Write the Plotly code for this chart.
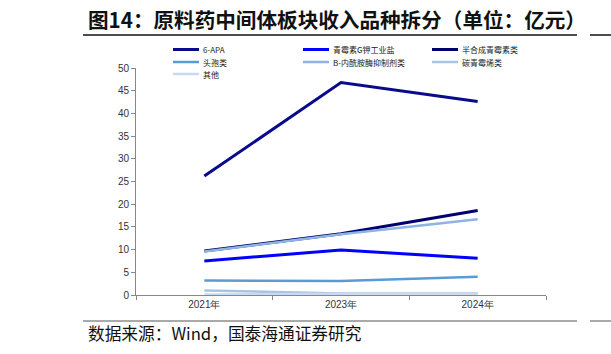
import plotly.graph_objects as go

years = ["2021年", "2023年", "2024年"]
series_names = ["6-APA", "青霉素G钾工业盐", "半合成青霉素类", "头孢类", "B-内酰胺酶抑制剂类", "碳青霉烯类", "其他"]
apa = [26.2, 46.8, 42.6]
pen_g = [7.5, 9.9, 8.1]
semi = [9.7, 13.5, 18.6]
ceph = [3.2, 3.1, 4.0]
blac = [9.6, 13.4, 16.7]
carb = [1.0, 0.35, 0.35]
other = [0.1, 0.3, 0.3]
values = [apa, pen_g, semi, ceph, blac, carb, other]
colors = ["#0a0a8c", "#0000ff", "#000070", "#5b9bd5", "#8db4e2", "#a6c4e6", "#c9daf0"]
widths = [3, 3, 3, 2.5, 2.5, 2.5, 2.5]

L, R, T, B = 136, 546, 68, 295
PW, PH = R - L, B - T


def px(x):
    return (x - L) / PW


def py(y):
    return (B - y) / PH


fig = go.Figure()
for name, v, c, w in zip(series_names, values, colors, widths):
    fig.add_trace(go.Scatter(x=years, y=v, name=name, mode="lines",
                             line=dict(color=c, width=w), showlegend=False))

fig.update_layout(
    width=611, height=354,
    margin=dict(l=L, r=611 - R, t=T, b=354 - B),
    paper_bgcolor="white", plot_bgcolor="white",
    xaxis=dict(type="category", range=[-0.5, 2.5], showline=True, linecolor="#888",
               linewidth=1, ticks="outside", tickson="boundaries", ticklen=4,
               tickcolor="#888", showgrid=False, zeroline=False,
               tickfont=dict(family="Arial, Liberation Sans", size=10, color="#333")),
    yaxis=dict(range=[0, 50], dtick=5, showline=True, linecolor="#888", linewidth=1,
               ticks="outside", ticklen=4, tickcolor="#888", showgrid=False,
               zeroline=False,
               tickfont=dict(family="Arial, Liberation Sans", size=10, color="#333")),
    font=dict(family="Noto Sans CJK SC"),
)

# compact legend (3 columns)
col_x = [173, 303, 432]
row_y = [49.5, 62, 74]
for i, (name, c) in enumerate(zip(series_names, colors)):
    r, k = divmod(i, 3)
    x0, y0 = col_x[k], row_y[r]
    fig.add_shape(type="line", xref="paper", yref="paper",
                  x0=px(x0), x1=px(x0 + 26), y0=py(y0), y1=py(y0),
                  line=dict(color=c, width=widths[i]))
    fig.add_annotation(text=name, xref="paper", yref="paper", x=px(x0 + 28), y=py(y0),
                       xanchor="left", yanchor="middle", showarrow=False,
                       font=dict(family="Noto Sans CJK SC", size=8, color="#222"))

fig.add_annotation(text="<b>图14：原料药中间体板块收入品种拆分（单位：亿元）</b>",
                   xref="paper", yref="paper", x=px(86), y=py(19),
                   xanchor="left", yanchor="middle", showarrow=False,
                   font=dict(family="Noto Sans CJK SC", size=20.6, color="#111"))
fig.add_annotation(text="数据来源：Wind，国泰海通证券研究",
                   xref="paper", yref="paper", x=px(86), y=py(333),
                   xanchor="left", yanchor="middle", showarrow=False,
                   font=dict(family="Noto Sans CJK SC", size=16.7, color="#111"))
for xa, xb in [(83, 577), (590, 611)]:
    fig.add_shape(type="line", xref="paper", yref="paper",
                  x0=px(xa), x1=px(xb), y0=py(35), y1=py(35),
                  line=dict(color="#111", width=1.5))
    fig.add_shape(type="line", xref="paper", yref="paper",
                  x0=px(xa), x1=px(xb), y0=py(321), y1=py(321),
                  line=dict(color="#555", width=1))

fig.write_html("out.html")
